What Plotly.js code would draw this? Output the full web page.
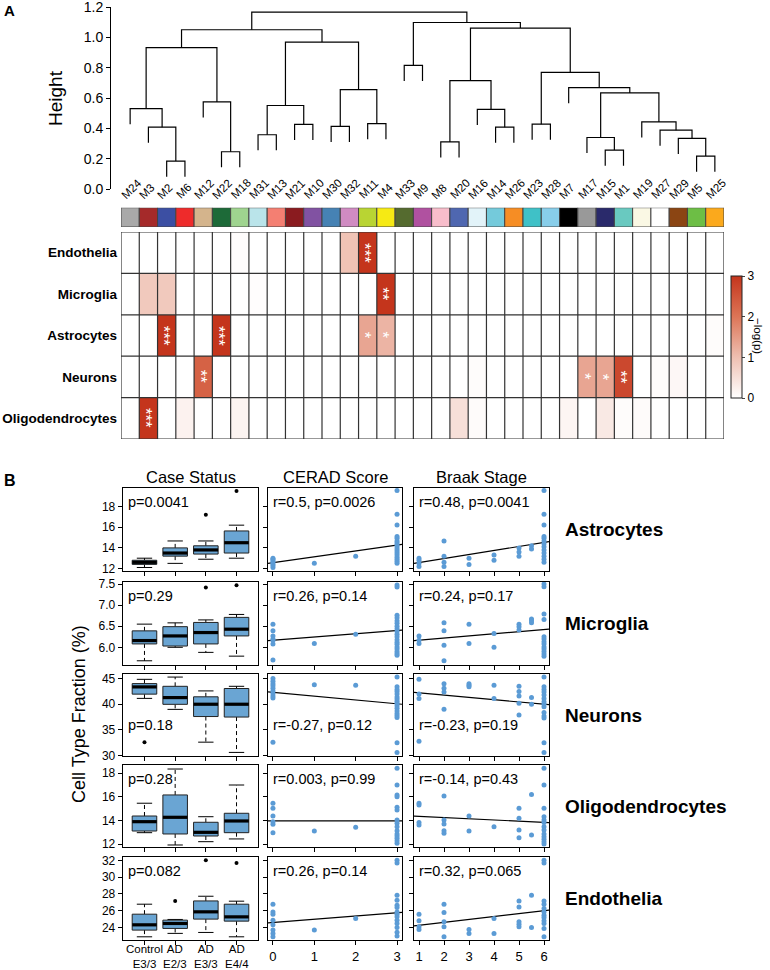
<!DOCTYPE html>
<html><head><meta charset="utf-8">
<script src="https://cdn.plot.ly/plotly-3.0.1.min.js"></script>
<style>html,body{margin:0;padding:0;background:#fff}#chart{width:770px;height:970px}</style>
</head><body><div id="chart"></div>
<script>
// ================= Panel A data =================
const modules = ['M24','M3','M2','M6','M12','M22','M18','M31','M13','M21','M10','M30','M32','M11','M4','M33','M9','M8','M20','M16','M14','M26','M23','M28','M7','M17','M15','M1','M19','M27','M29','M5','M25'];
const moduleColors = ['#A9A9A9','#A52A2A','#3C4FA3','#EE2B2B','#D4B48C','#1D6A38','#9FD48F','#BAE4EA','#F47F72','#8A1B1F','#8152A2','#4682B4','#D08BC2','#B9D433','#F6EA14','#556B2F','#B051A0','#F8BDCB','#4F67B0','#E2F3F9','#74CADB','#F68D24','#3FC1C7','#88CEEA','#000000','#999999','#2A2A6B','#69C9C0','#FAF8E4','#FFFFFF','#8B4513','#6DBE45','#FBA91C'];
// hierarchical clustering merges (cN = result of merge N)
const mergeA = ['M2','M3','M24','M22','M12','c3','M31','M21','c7','M30','M11','c10','c9','c6','M33','M8','M14','M16','c16','M23','M15','M17','M5','M29','M27','M19','c22','M7','c20','c19','c15','c14'];
const mergeB = ['M6','c1','c2','M18','c4','c5','M13','M10','c8','M32','M4','c11','c12','c13','M9','M20','M26','c17','c18','M28','M1','c21','M25','c23','c24','c25','c26','c27','c28','c29','c30','c31'];
const mergeHeight = [0.184,0.408,0.531,0.246,0.575,0.933,0.358,0.426,0.551,0.413,0.432,0.656,0.970,1.051,0.816,0.311,0.408,0.525,0.715,0.428,0.257,0.340,0.217,0.334,0.388,0.443,0.634,0.669,0.770,1.062,1.099,1.167];
const leafHang = 0.103;
const heightTicks = [0,0.2,0.4,0.6,0.8,1.0,1.2];

const cellTypes = ['Endothelia','Microglia','Astrocytes','Neurons','Oligodendrocytes'];
const negLogP = [
  [0,0,0,0,0,0,0.04,0,0,0, 0,0,0.95,3,0,0,0,0,0,0, 0,0,0,0,0,0,0,0,0,0, 0,0,0],
  [0,0.85,0.85,0,0,0,0,0.03,0,0, 0,0,0,0,3,0,0,0,0,0, 0,0,0,0,0,0,0,0,0,0, 0,0,0],
  [0,0,3,0,0,3,0,0,0,0, 0,0,0,1.35,1.15,0,0,0,0,0, 0,0,0,0,0,0,0,0,0,0, 0,0,0.05],
  [0,0,0,0,2.3,0,0,0,0,0, 0,0,0,0,0,0,0,0,0,0.05, 0,0,0,0,0,1.35,1.35,2.7,0,0.05, 0.12,0,0],
  [0,3,0,0.2,0,0,0.18,0,0,0, 0,0,0,0,0,0,0,0,0.5,0.06, 0,0,0,0,0.15,0,0.35,0.05,0.06,0, 0,0,0]
];
const starCellType = ['Endothelia','Microglia','Astrocytes','Astrocytes','Astrocytes','Astrocytes','Neurons','Neurons','Neurons','Neurons','Oligodendrocytes'];
const starModule = ['M11','M4','M2','M22','M11','M4','M12','M17','M15','M1','M3'];
const starCount = [3,2,3,3,1,1,2,1,1,2,3];

// ================= Panel B data =================
const rowNames = ['Astrocytes','Microglia','Neurons','Oligodendrocytes','Endothelia'];
const caseGroups = ['Control','AD','AD','AD'];
const caseGenotype = ['E3/3','E2/3','E3/3','E4/4'];
const boxLower  = [[12.1,12.5,12.9,13.0],[5.68,6.0,5.88,5.79],[41.14,39.0,32.6,30.6],[12.98,11.94,12.22,12.45],[22.88,23.29,23.4,22.88]];
const boxQ1     = [[12.4,13.2,13.4,13.5],[6.08,6.03,6.08,6.27],[41.97,39.98,37.6,37.5],[13.12,12.87,12.70,12.98],[23.68,23.88,24.99,24.75]];
const boxMedian = [[12.6,13.5,13.8,14.5],[6.16,6.27,6.35,6.43],[43.38,41.3,40.0,40.0],[13.91,14.28,13.01,13.97],[24.31,24.47,25.86,25.26]];
const boxQ3     = [[12.8,14.0,14.2,15.64],[6.39,6.49,6.59,6.71],[44.03,43.5,41.45,43.07],[14.39,16.17,13.86,14.62],[25.58,24.87,27.16,26.77]];
const boxUpper  = [[13.0,14.67,14.67,16.2],[6.55,6.58,6.65,6.78],[44.86,45.3,42.6,43.5],[15.47,18.36,14.33,17.01],[26.77,24.95,27.72,27.13]];
const outlierGroup = [[3,4],[3,4],[1],[],[2,3,4]];
const outlierValue = [[17.2,19.5],[7.42,7.47],[32.6],[],[27.16,32.0,31.68]];

const ceradLevels = [0,1,2,3];
const braakLevels = [1,2,3,4,5,5.5,6];
const ceradValues = [
  [[12.1,12.3,12.45,12.6,12.75,12.9,13.0],[12.5],[13.2],[19.55,17.26,16.22,15.09,14.93,14.67,14.5,14.3,14.1,13.9,13.7,13.5,13.3,13.1,12.9,12.7,12.5]],
  [[6.55,6.39,6.27,6.20,6.16,6.08,5.70],[6.09],[6.31],[7.48,7.43,6.76,6.70,6.63,6.57,6.50,6.44,6.38,6.31,6.25,6.18,6.12,6.07,6.01,5.96,5.90,5.85,5.81]],
  [[45.0,44.5,44.0,43.6,43.1,42.6,42.1,41.6,41.2,32.6],[43.8],[43.7],[45.3,43.4,42.9,42.5,42.0,41.4,41.0,40.6,40.2,39.7,39.2,38.7,38.2,37.8,37.4,32.5,30.6]],
  [[15.47,15.04,14.39,13.91,13.69,12.98],[13.12],[13.44],[18.42,17.01,16.17,16.02,15.13,14.90,14.05,13.78,13.49,13.15,12.87,12.70,12.51,12.30,12.08]],
  [[26.77,25.85,25.58,24.87,24.31,23.68,23.29,22.88],[23.68],[25.07],[32.0,31.68,27.84,27.25,26.65,26.38,25.85,25.58,25.26,24.87,24.47,24.0,23.41,22.97]]
];
const braakValues = [
  [[12.2,12.5,12.8,13.0],[14.67,13.2,12.6,12.2],[12.4,13.0],[13.3,12.8],[14.0,13.6,13.2],[14.2,13.9],[19.55,17.26,16.22,15.09,14.93,14.67,14.4,14.1,13.8,13.5,13.2,12.9,12.6]],
  [[6.27,6.17,6.09],[6.58,6.39,6.05,5.68],[6.55,6.09],[6.33,6.0],[6.55,6.49,6.41],[6.67,6.63,6.58],[7.5,7.44,6.79,6.66,6.25,6.20,6.13,6.08,6.01,5.96,5.90,5.84,5.79]],
  [[44.9,42.0,41.1,32.8],[44.0,43.1,42.4,39.0],[44.0,43.7,43.4],[43.7,41.1],[43.5,42.5,41.6,40.2,37.9],[41.3,40.0],[45.3,43.4,42.9,42.4,41.8,41.1,40.5,40.0,39.5,38.4,37.7,37.3,32.5,30.6]],
  [[15.47,15.32,13.83,13.63],[16.08,14.05,13.72,13.15,12.93],[14.39,13.12],[13.49],[15.04,14.20,13.21,12.56],[16.21,12.79],[18.42,17.01,15.04,14.33,14.05,13.83,13.49,13.21,12.87,12.64,12.42,12.22,12.03]],
  [[25.58,24.79,24.07,23.76],[26.77,25.78,24.67,24.07,22.88],[23.76,23.29],[25.07,23.29],[27.16,26.45,24.67,24.39,24.07],[27.84,24.0],[32.0,31.68,27.16,26.77,26.26,25.85,25.46,25.19,24.79,24.47,23.88,22.88]]
];
const ceradIntercept = [12.57,6.169,42.31,13.97,24.60];
const ceradSlope     = [0.57,0.0772,-0.741,0,0.38];
const braakIntercept = [12.19,6.12,42.66,14.47,23.91];
const braakSlope     = [0.389,0.05,-0.444,-0.1037,0.346];
const caseStat  = ['p=0.0041','p=0.29','p=0.18','p=0.28','p=0.082'];
const ceradStat = ['r=0.5, p=0.0026','r=0.26, p=0.14','r=-0.27, p=0.12','r=0.003, p=0.99','r=0.26, p=0.14'];
const braakStat = ['r=0.48, p=0.0041','r=0.24, p=0.17','r=-0.23, p=0.19','r=-0.14, p=0.43','r=0.32, p=0.065'];
const yTickVals = [[12,14,16,18],[6.0,6.5,7.0,7.5],[30,35,40,45],[12,14,16,18],[24,26,28,30,32]];
const yTickText = [['12','14','16','18'],['6.0','6.5','7.0','7.5'],['30','35','40','45'],['12','14','16','18'],['24','26','28','30','32']];

// ================= Drawing =================
const W = 770, H = 970;
const fx = p => p / W, fy = p => 1 - p / H;
const FONT = 'Liberation Sans, Arial, Helvetica, sans-serif';
const traces = [], annotations = [], shapes = [];
const layout = {width:W, height:H, margin:{l:0,r:0,t:0,b:0}, showlegend:false,
  paper_bgcolor:'#fff', plot_bgcolor:'rgba(0,0,0,0)', font:{family:FONT, color:'#000'}};
function ann(text, x, y, o) {
  return Object.assign({text, x:fx(x), y:fy(y), xref:'paper', yref:'paper', showarrow:false,
    xanchor:'center', yanchor:'middle', font:{family:FONT, size:12, color:'#000'}}, o || {});
}

// ---- dendrogram ----
const leafIdx = {}; modules.forEach((m,i)=>leafIdx[m]=i);
const nodeX = [], nodeH = [];
const cx = c => (c in leafIdx) ? leafIdx[c] : nodeX[+c.slice(1)-1];
const dX = [], dY = [];
mergeA.forEach((a,k)=>{
  const b = mergeB[k], h = mergeHeight[k];
  const xa = cx(a), xb = cx(b);
  const ya = (a in leafIdx) ? h - leafHang : nodeH[+a.slice(1)-1];
  const yb = (b in leafIdx) ? h - leafHang : nodeH[+b.slice(1)-1];
  dX.push(xa, xa, xb, xb, null); dY.push(ya, h, h, yb, null);
  nodeX.push((xa+xb)/2); nodeH.push(h);
});
traces.push({type:'scatter', mode:'lines', x:dX, y:dY, xaxis:'x', yaxis:'y', line:{color:'#000', width:1.2}, hoverinfo:'skip'});
const modX = modules.map((m,i)=>i);
const modRange = [-0.5, modules.length-0.5];
layout.xaxis = {domain:[fx(121), fx(724)], range:modRange, visible:false, fixedrange:true};
layout.yaxis = {domain:[fy(189), fy(7.2)], range:[0, 1.2], anchor:'free', position:fx(110), showline:true, linecolor:'#000', linewidth:1,
  ticks:'outside', ticklen:4, tickcolor:'#000', tickvals:heightTicks, ticktext:heightTicks.map(v=>v.toFixed(1)), showgrid:false, zeroline:false,
  ticklabeloverflow:'allow', tickfont:{family:FONT, size:14, color:'#000'}, fixedrange:true};
modules.forEach((m,i)=>annotations.push({text:m, x:i, xref:'x', y:fy(204), yref:'paper', xshift:-14, textangle:-45,
  xanchor:'left', yanchor:'bottom', showarrow:false, font:{family:FONT, size:11.5, color:'#000'}}));
annotations.push(ann('Height', 56, 98, {textangle:-90, font:{family:FONT, size:19, color:'#000'}}));
annotations.push(ann('<b>A</b>', 2, 11, {xanchor:'left', font:{family:FONT, size:15, color:'#000'}}));

// ---- module colour strip ----
traces.push({type:'bar', x:modX, y:modules.map(()=>1), base:0, width:1, xaxis:'x2', yaxis:'y2',
  marker:{color:moduleColors, line:{color:'#444', width:1}}, hoverinfo:'skip'});
layout.xaxis2 = {domain:[fx(121), fx(724)], range:modRange, visible:false, fixedrange:true};
layout.yaxis2 = {domain:[fy(227), fy(207.7)], range:[0,1], visible:false, fixedrange:true};

// ---- heatmap ----
traces.push({type:'heatmap', z:negLogP, x:modX, y:cellTypes.map((c,i)=>i), zmin:0, zmax:3, xaxis:'x3', yaxis:'y3',
  colorscale:[[0,'#FFFFFF'],[0.33,'#EFC0B2'],[0.67,'#DC7456'],[1,'#C4351C']], hoverinfo:'skip',
  colorbar:{x:fx(731), xanchor:'left', y:fy(337), yanchor:'middle', len:122/H, lenmode:'fraction', thickness:11,
    thicknessmode:'pixels', outlinewidth:1, outlinecolor:'#222', ticks:'outside', ticklen:3, tickvals:[0,1,2,3],
    tickfont:{family:FONT, size:12, color:'#000'}, xpad:0, ypad:0}});
layout.xaxis3 = {domain:[fx(121), fx(724)], range:modRange, visible:false, fixedrange:true};
layout.yaxis3 = {domain:[fy(439), fy(232)], range:[cellTypes.length-0.5, -0.5], tickvals:cellTypes.map((c,i)=>i),
  ticktext:cellTypes.map(c=>'<b>'+c+'</b>'), ticks:'', showgrid:false, zeroline:false, showline:false,
  ticklabelstandoff:3, tickfont:{family:FONT, size:13.5, color:'#000'}, fixedrange:true};
for (let i = 0; i <= modules.length; i++)
  shapes.push({type:'line', xref:'x3', yref:'y3', x0:i-0.5, x1:i-0.5, y0:-0.5, y1:cellTypes.length-0.5, line:{color:'#333', width:1.2}});
for (let j = 0; j <= cellTypes.length; j++)
  shapes.push({type:'line', xref:'x3', yref:'y3', x0:-0.5, x1:modules.length-0.5, y0:j-0.5, y1:j-0.5, line:{color:'#333', width:1.2}});
// significance stars: one vertical text per cell
starCount.forEach((n,k)=>{
  annotations.push({text:'*'.repeat(n), x:modules.indexOf(starModule[k]), xref:'x3', y:cellTypes.indexOf(starCellType[k]), yref:'y3',
    textangle:90, xshift:-3, showarrow:false, xanchor:'center', yanchor:'middle', font:{family:FONT, size:17, color:'#fff'}});
});
annotations.push(ann('\u2212log(p)', 758, 336, {textangle:90, font:{family:FONT, size:11.5, color:'#000'}}));

// ---- panel B ----
const colLeft = [123,268,414], colRight = [258,402,549];
const rowTop = [488,582,674,765,857], rowBottom = [571,665,756,847,940];
const xRanges = [[0.3,4.7],[-0.12,3.12],[0.8,6.2]];
const yRanges = [[11.76,19.8],[5.58,7.55],[29.9,45.9],[11.77,18.7],[22.5,32.4]];
const colTitles = ['Case Status','CERAD Score','Braak Stage'];
const BOXW = 0.4, CAPW = 0.25;
const ptColor = '#5B9BD5';
const lastRow = rowNames.length - 1;

rowNames.forEach((rn, r)=>{
  for (let c = 0; c < 3; c++) {
    const id = 4 + r*3 + c, xa = 'x'+id, ya = 'y'+id;
    const xTicks = c===0 ? [1,2,3,4] : (c===1 ? ceradLevels : [1,2,3,4,5,6]);
    layout['xaxis'+id] = {domain:[fx(colLeft[c]), fx(colRight[c])], anchor:ya, range:xRanges[c], tickvals:xTicks,
      ticktext:xTicks.map(String), showticklabels: (r===lastRow && c>0), tickangle:0,
      showline:true, mirror:true, linecolor:'#000', linewidth:1.3, ticks:'outside', ticklen:4, tickcolor:'#000',
      showgrid:false, zeroline:false, tickfont:{family:FONT, size:13, color:'#000'}, fixedrange:true};
    layout['yaxis'+id] = {domain:[fy(rowBottom[r]), fy(rowTop[r])], anchor:xa, range:yRanges[r], tickvals:yTickVals[r],
      ticktext:yTickText[r], showticklabels: c===0, showline:true, mirror:true, linecolor:'#000', linewidth:1.3,
      ticks:'outside', ticklen:4, tickcolor:'#000', showgrid:false, zeroline:false,
      tickfont:{family:FONT, size:12, color:'#000'}, fixedrange:true};
    const statText = [caseStat, ceradStat, braakStat][c][r];
    const ty = (r === 2) ? rowBottom[r] - 31 : rowTop[r] + 13.7;
    annotations.push(ann(statText, colLeft[c] + 3, ty, {xanchor:'left', font:{family:FONT, size:14.5, color:'#000'}}));

    if (c === 0) {
      const bx=[], by=[], mx=[], my=[], wx=[], wy=[], kx=[], ky=[];
      for (let g = 0; g < 4; g++) {
        const x = g+1;
        bx.push(x-BOXW, x+BOXW, x+BOXW, x-BOXW, x-BOXW, null);
        by.push(boxQ1[r][g], boxQ1[r][g], boxQ3[r][g], boxQ3[r][g], boxQ1[r][g], null);
        mx.push(x-BOXW, x+BOXW, null); my.push(boxMedian[r][g], boxMedian[r][g], null);
        wx.push(x, x, null, x, x, null); wy.push(boxQ3[r][g], boxUpper[r][g], null, boxQ1[r][g], boxLower[r][g], null);
        kx.push(x-CAPW, x+CAPW, null, x-CAPW, x+CAPW, null); ky.push(boxUpper[r][g], boxUpper[r][g], null, boxLower[r][g], boxLower[r][g], null);
      }
      traces.push({type:'scatter', mode:'lines', x:wx, y:wy, xaxis:xa, yaxis:ya, line:{color:'#000', width:1, dash:'4px,3px'}, hoverinfo:'skip'});
      traces.push({type:'scatter', mode:'lines', x:kx, y:ky, xaxis:xa, yaxis:ya, line:{color:'#000', width:1}, hoverinfo:'skip'});
      traces.push({type:'scatter', mode:'lines', x:bx, y:by, fill:'toself', fillcolor:'#6AA5D3', xaxis:xa, yaxis:ya, line:{color:'#222', width:1}, hoverinfo:'skip'});
      traces.push({type:'scatter', mode:'lines', x:mx, y:my, xaxis:xa, yaxis:ya, line:{color:'#000', width:3.2}, hoverinfo:'skip'});
      traces.push({type:'scatter', mode:'markers', x:outlierGroup[r], y:outlierValue[r], xaxis:xa, yaxis:ya, marker:{color:'#000', size:4}, hoverinfo:'skip'});
      if (r === lastRow) {
        caseGroups.forEach((gname,i)=>annotations.push({text:gname+'<br>'+caseGenotype[i], x:i+1, xref:xa, y:fy(956.5), yref:'paper',
          showarrow:false, borderpad:0, xanchor:'center', yanchor:'middle', font:{family:FONT, size:11.5, color:'#000'}}));
      }
    } else {
      const levels = c===1 ? ceradLevels : braakLevels;
      const vals = c===1 ? ceradValues[r] : braakValues[r];
      const px=[], py=[];
      vals.forEach((arr,li)=>arr.forEach(v=>{px.push(levels[li]); py.push(v);}));
      const b0 = c===1 ? ceradIntercept[r] : braakIntercept[r], b1 = c===1 ? ceradSlope[r] : braakSlope[r];
      const xr = xRanges[c];
      traces.push({type:'scatter', mode:'lines', x:xr, y:xr.map(x=>b0+b1*x), xaxis:xa, yaxis:ya, line:{color:'#000', width:1.2}, hoverinfo:'skip'});
      traces.push({type:'scatter', mode:'markers', x:px, y:py, xaxis:xa, yaxis:ya, marker:{color:ptColor, size:5}, hoverinfo:'skip'});
    }
  }
  annotations.push(ann('<b>'+rn+'</b>', 563, (rowTop[r]+rowBottom[r])/2, {xanchor:'left', font:{family:FONT, size:19, color:'#000'}}));
});
colTitles.forEach((t,c)=>annotations.push(ann(t, (colLeft[c]+colRight[c])/2, 477, {font:{family:FONT, size:16.5, color:'#000'}})));
annotations.push(ann('Cell Type Fraction (%)', 79, 714, {textangle:-90, font:{family:FONT, size:18, color:'#000'}}));
annotations.push(ann('<b>B</b>', 2, 480, {xanchor:'left', font:{family:FONT, size:16, color:'#000'}}));

layout.annotations = annotations;
layout.shapes = shapes;
Plotly.newPlot('chart', traces, layout, {displayModeBar:false, staticPlot:true});
</script>
</body></html>
